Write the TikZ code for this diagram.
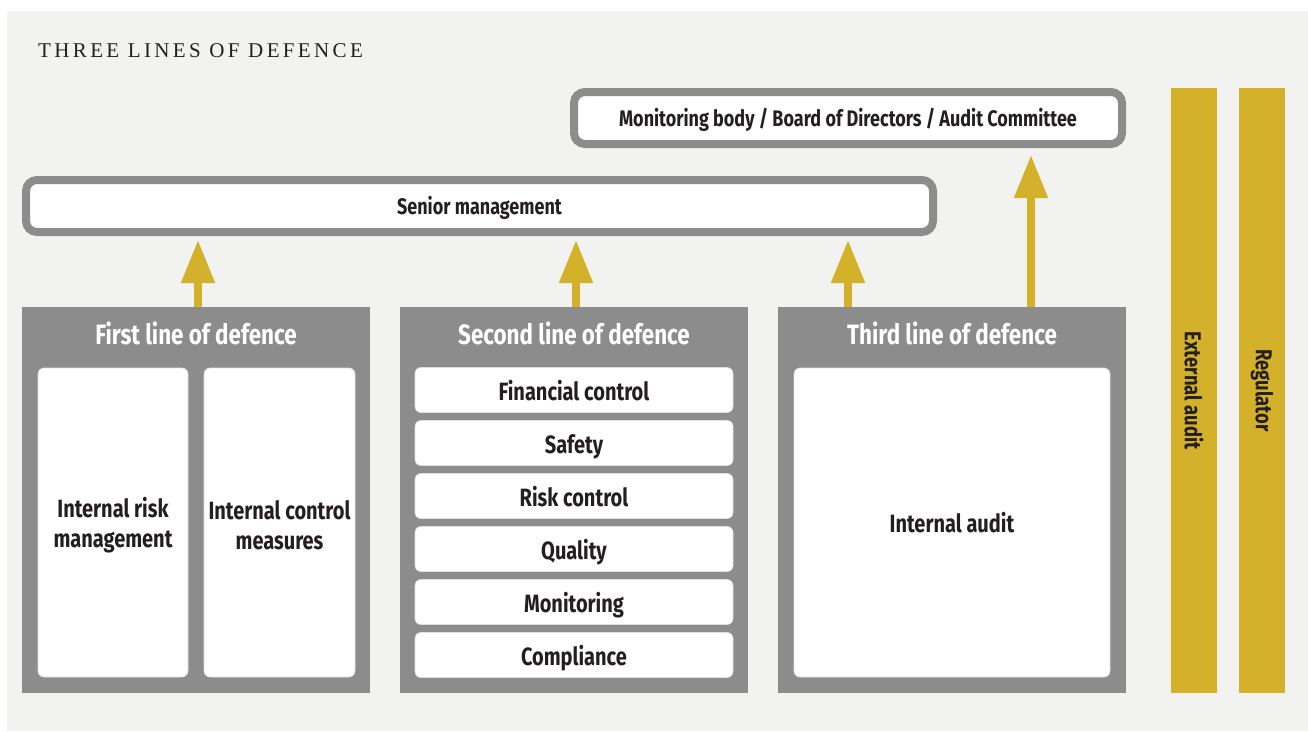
\documentclass[tikz,border=0pt]{standalone}
\usepackage{fontspec}
\setmainfont{Fira Sans}
\newfontfamily\condb{Fira Sans}[FakeStretch=0.80]
\newfontfamily\titlefont{Liberation Serif}[LetterSpace=16]
\usetikzlibrary{arrows.meta}
\definecolor{bgc}{HTML}{F2F2F0}
\definecolor{pgray}{HTML}{8C8C8C}
\definecolor{gold}{HTML}{D3B12B}
\definecolor{ink}{HTML}{231F20}
\tikzset{
  panel/.style={fill=pgray, inner sep=0pt, outer sep=0pt},
  bbox/.style={fill=white, draw=pgray, line width=8pt, rounded corners=11pt, inner sep=0pt, outer sep=0pt,
    font=\condb\bfseries\fontsize{22.5}{26}\selectfont, text=ink, text height=21.5pt, text depth=5pt},
  hdr/.style={inner sep=0pt, text=white, font=\condb\bfseries\fontsize{28}{32}\selectfont},
  wbox/.style={fill=white, draw=black!12, line width=0.6pt, rounded corners=6pt, inner sep=0pt, outer sep=0pt,
    align=center, text=ink, font=\condb\bfseries\fontsize{25}{30}\selectfont},
  itembox/.style={wbox, text height=26pt, text depth=6pt},
  wtext/.style={inner sep=0pt, align=center, text=ink, font=\condb\bfseries\fontsize{25}{30}\selectfont},
  goldbar/.style={fill=gold, inner sep=0pt, outer sep=0pt, rotate=-90, text=ink,
    font=\condb\bfseries\fontsize{23}{28}\selectfont},
  goldarrow/.style={draw=gold, line width=8pt, -{Triangle[width=32pt,length=43pt]}}
}
\begin{document}
\begin{tikzpicture}[x=1pt,y=-1pt]
\useasboundingbox (0,0) rectangle (1308,731);
\fill[bgc] (7,11) rectangle (1308,731);
\node[anchor=base west, inner sep=0pt, text=ink, font=\titlefont\fontsize{21}{24}\selectfont] (title) at (38,57) {THREE LINES OF DEFENCE};

\node[bbox, minimum width=548pt, minimum height=52pt] (mon) at (848,118) {Monitoring body / Board of Directors / Audit Committee};
\node[bbox, minimum width=907pt, minimum height=52pt] (sen) at (479.5,206) {Senior management};

\node[panel, minimum width=348pt, minimum height=386pt] (p1) at (196,500) {};
\node[panel, minimum width=348pt, minimum height=386pt] (p2) at (574,500) {};
\node[panel, minimum width=348pt, minimum height=386pt] (p3) at (952,500) {};
\node[hdr] (h1) at (196,333) {First line of defence};
\node[hdr] (h2) at (574,333) {Second line of defence};
\node[hdr] (h3) at (952,333) {Third line of defence};

\node[wbox, minimum width=150pt, minimum height=309pt] (irm) at (113,522.5) {};
\node[wtext] (irmt) at ([yshift=-3pt]irm.center) {Internal risk\\management};
\node[wbox, minimum width=151pt, minimum height=309pt] (icm) at (279.5,522.5) {};
\node[wtext] (icmt) at ([yshift=-3pt]icm.center) {Internal control\\measures};

\node[itembox, minimum width=318pt, minimum height=45pt] (s1) at (574,390) {Financial control};
\node[itembox, minimum width=318pt, minimum height=45pt] (s2) at (574,443) {Safety};
\node[itembox, minimum width=318pt, minimum height=45pt] (s3) at (574,496) {Risk control};
\node[itembox, minimum width=318pt, minimum height=45pt] (s4) at (574,549) {Quality};
\node[itembox, minimum width=318pt, minimum height=45pt] (s5) at (574,602) {Monitoring};
\node[itembox, minimum width=318pt, minimum height=45pt] (s6) at (574,655) {Compliance};

\node[wbox, minimum width=316pt, minimum height=309pt] (ia) at (952,522.5) {Internal audit};

\node[goldbar, minimum width=605pt, minimum height=46pt] (ext) at (1194,390.5) {External audit};
\node[goldbar, minimum width=605pt, minimum height=46pt] (reg) at (1262,390.5) {Regulator};

\coordinate (a1) at (198,0);
\coordinate (a2) at (576,0);
\coordinate (a3) at (848,0);
\coordinate (a4) at (1031,0);
\draw[goldarrow, shorten >=8pt] (p1.north -| a1) -- (sen.south -| a1);
\draw[goldarrow, shorten >=8pt] (p2.north -| a2) -- (sen.south -| a2);
\draw[goldarrow, shorten >=8pt] (p3.north -| a3) -- (sen.south -| a3);
\draw[goldarrow, shorten >=11pt] (p3.north -| a4) -- (mon.south -| a4);
\end{tikzpicture}
\end{document}
